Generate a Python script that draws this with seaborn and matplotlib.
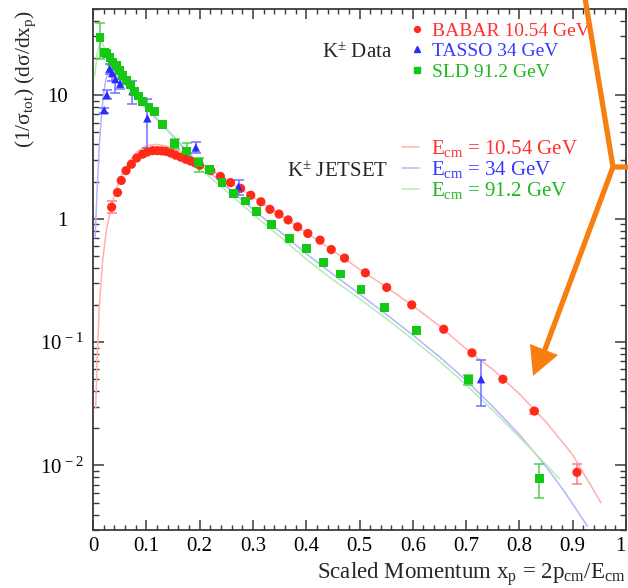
import numpy as np
import pandas as pd
import matplotlib
matplotlib.use("Agg")
import matplotlib.pyplot as plt
import seaborn as sns
from matplotlib.ticker import MultipleLocator, LogLocator, FixedLocator, NullFormatter
from matplotlib.lines import Line2D
from matplotlib.patches import Polygon

# ---------------- data ----------------
babar_x = [0.035, 0.046, 0.053, 0.062, 0.072, 0.082, 0.093, 0.102, 0.112, 0.121, 0.129, 0.137,
           0.146, 0.155, 0.165, 0.174, 0.183, 0.192, 0.200, 0.221, 0.239, 0.258, 0.277, 0.296,
           0.315, 0.332, 0.349, 0.366, 0.384, 0.403, 0.426, 0.447, 0.472, 0.511, 0.551, 0.598,
           0.658, 0.711, 0.769, 0.828, 0.908]
babar_y = [1.24, 1.63, 2.04, 2.45, 2.76, 3.10, 3.33, 3.47, 3.56, 3.56, 3.54, 3.51,
           3.40, 3.27, 3.15, 3.03, 2.93, 2.82, 2.71, 2.45, 2.20, 1.96, 1.76, 1.55,
           1.37, 1.19, 1.09, 0.977, 0.859, 0.759, 0.670, 0.562, 0.479, 0.364, 0.277, 0.200,
           0.127, 0.0818, 0.0500, 0.0276, 0.0088]
babar_err_x = [0.035, 0.828, 0.908]
babar_err_lo = [1.12, 0.0262, 0.0071]
babar_err_hi = [1.39, 0.0282, 0.0103]

tasso_x = [0.021, 0.026, 0.031, 0.036, 0.042, 0.051, 0.074, 0.102, 0.193, 0.273, 0.728]
tasso_y = [7.56, 10.05, 16.4, 15.1, 13.5, 12.4, 10.8, 6.5, 3.77, 1.82, 0.050]
tasso_err_lo = [7.2, 9.4, 14.8, 13.0, 10.5, 11.2, 8.5, 3.77, 3.40, 1.55, 0.0305]
tasso_err_hi = [7.9, 11.1, 18.0, 17.5, 16.0, 13.6, 13.0, 9.4, 4.20, 2.06, 0.0715]

sld_x = [0.013, 0.022, 0.026, 0.032, 0.037, 0.044, 0.050, 0.056, 0.063, 0.070, 0.078, 0.085,
         0.093, 0.105, 0.115, 0.131, 0.153, 0.176, 0.198, 0.219, 0.242, 0.264, 0.286, 0.307,
         0.335, 0.368, 0.400, 0.433, 0.465, 0.503, 0.547, 0.607, 0.704, 0.837]
sld_y = [29.3, 22.2, 21.9, 20.2, 18.6, 17.3, 15.9, 14.5, 13.2, 12.1, 10.8, 9.88,
         8.90, 7.95, 7.37, 5.82, 4.06, 3.54, 2.85, 2.51, 1.96, 1.60, 1.39, 1.14,
         0.90, 0.695, 0.577, 0.441, 0.356, 0.268, 0.191, 0.124, 0.0496, 0.00787]
sld_err_x = [0.013, 0.153, 0.176, 0.198, 0.704, 0.837]
sld_err_lo = [19.8, 3.70, 3.23, 2.37, 0.045, 0.00546]
sld_err_hi = [38.8, 4.46, 4.08, 3.10, 0.054, 0.0102]

jet_red_x = [0.005, 0.008, 0.012, 0.018, 0.025, 0.034, 0.045, 0.056, 0.070, 0.085, 0.100, 0.120,
             0.140, 0.165, 0.200, 0.250, 0.300, 0.350, 0.400, 0.450, 0.500, 0.550, 0.600, 0.650,
             0.700, 0.750, 0.800, 0.850, 0.900, 0.953]
jet_red_y = [0.029, 0.08, 0.20, 0.45, 0.80, 1.25, 1.80, 2.37, 3.00, 3.55, 3.90, 4.00,
             3.85, 3.50, 2.85, 2.07, 1.50, 1.08, 0.77, 0.55, 0.39, 0.28, 0.197, 0.135,
             0.088, 0.060, 0.038, 0.0225, 0.0122, 0.0050]

jet_blue_x = [0.004, 0.008, 0.012, 0.016, 0.020, 0.025, 0.030, 0.035, 0.050, 0.075, 0.100, 0.150,
              0.200, 0.250, 0.300, 0.350, 0.400, 0.450, 0.500, 0.550, 0.600, 0.650, 0.700, 0.750,
              0.800, 0.850, 0.885, 0.928]
jet_blue_y = [0.70, 1.80, 4.0, 7.0, 10.5, 14.0, 15.5, 15.5, 13.5, 10.5, 7.8, 4.7,
              2.75, 1.82, 1.19, 0.79, 0.52, 0.355, 0.245, 0.168, 0.114, 0.076, 0.049, 0.030,
              0.0178, 0.0098, 0.0061, 0.0032]

jet_green_x = [0.003, 0.008, 0.015, 0.020, 0.030, 0.050, 0.075, 0.100, 0.150, 0.200, 0.250, 0.300,
               0.350, 0.400, 0.450, 0.500, 0.550, 0.600, 0.650, 0.700, 0.750, 0.800, 0.850, 0.875]
jet_green_y = [14.3, 22.0, 28.0, 25.0, 20.0, 15.0, 11.0, 8.3, 4.6, 2.55, 1.68, 1.09,
               0.72, 0.47, 0.32, 0.225, 0.155, 0.105, 0.070, 0.045, 0.028, 0.017, 0.0102, 0.0078]

x_ticks = [0, 0.1, 0.2, 0.3, 0.4, 0.5, 0.6, 0.7, 0.8, 0.9, 1.0]
x_tick_labels = ["0", "0.1", "0.2", "0.3", "0.4", "0.5", "0.6", "0.7", "0.8", "0.9", "1"]
y_ticks = [10, 1, 0.1, 0.01]
y_tick_labels = ["10", "1", r"$\mathregular{10^{\,-1}}$", r"$\mathregular{10^{\,-2}}$"]

data_labels = ["BABAR 10.54 GeV", "TASSO 34 GeV", "SLD 91.2 GeV"]
mc_labels = [r"E$_{\mathregular{cm}}$ = 10.54 GeV", r"E$_{\mathregular{cm}}$ = 34 GeV",
             r"E$_{\mathregular{cm}}$ = 91.2 GeV"]

# ---------------- style ----------------
sns.set_style("ticks")
plt.rcParams["font.family"] = ["Liberation Serif", "DejaVu Serif"]
plt.rcParams["mathtext.fontset"] = "custom"
plt.rcParams["mathtext.rm"] = "Liberation Serif"
plt.rcParams["mathtext.it"] = "Liberation Serif:italic"

RED, BLUE, GREEN = "#ff2a1a", "#2a2aff", "#14c814"
RED_T, BLUE_T, GREEN_T = "#ff3030", "#3838ff", "#20b820"
RED_L, BLUE_L, GREEN_L = "#ffb0b0", "#b4b4ff", "#b4ecb4"
AXC = "#3a3a3a"

W, H = 628, 588
fig = plt.figure(figsize=(W / 100, H / 100), dpi=100)
ax = fig.add_axes([93 / W, 1 - 530 / H, (626 - 93) / W, (530 - 9) / H])
ax.set_yscale("log")

def fx(px):
    return px / W

def fy(py):
    return 1 - py / H

# JETSET curves
for xs, ys, c in [(jet_red_x, jet_red_y, RED_L), (jet_blue_x, jet_blue_y, BLUE_L),
                  (jet_green_x, jet_green_y, GREEN_L)]:
    sns.lineplot(x=xs, y=ys, ax=ax, color=c, lw=1.1, estimator=None, sort=False, zorder=2)

# error bars
by = np.array([babar_y[babar_x.index(v)] for v in babar_err_x])
ax.errorbar(babar_err_x, by, yerr=[by - np.array(babar_err_lo), np.array(babar_err_hi) - by],
            fmt="none", ecolor="#ff8080", elinewidth=1.1, capsize=3.6, capthick=1.1, zorder=3)
ty = np.array(tasso_y)
ax.errorbar(tasso_x, tasso_y, yerr=[ty - np.array(tasso_err_lo), np.array(tasso_err_hi) - ty],
            fmt="none", ecolor="#7070ff", elinewidth=1.1, capsize=3.6, capthick=1.1, zorder=3)
sy = np.array([sld_y[sld_x.index(v)] for v in sld_err_x])
ax.errorbar(sld_err_x, sy, yerr=[sy - np.array(sld_err_lo), np.array(sld_err_hi) - sy],
            fmt="none", ecolor="#50d050", elinewidth=1.1, capsize=3.6, capthick=1.1, zorder=3)

# data points
sns.scatterplot(x=babar_x, y=babar_y, ax=ax, marker="o", color=RED, s=44, edgecolor="none", zorder=4)
sns.scatterplot(x=tasso_x, y=tasso_y, ax=ax, marker="^", color=BLUE, s=36, edgecolor="none", zorder=4)
sns.scatterplot(x=sld_x, y=sld_y, ax=ax, marker="s", color=GREEN, s=40, edgecolor="none", zorder=4)

ax.set_xlim(0, 1)
ax.set_ylim(0.003, 50)

# ticks
ax.xaxis.set_major_locator(FixedLocator(x_ticks))
ax.set_xticklabels(x_tick_labels)
ax.xaxis.set_minor_locator(MultipleLocator(0.02))
ax.yaxis.set_major_locator(FixedLocator(y_ticks))
ax.yaxis.set_minor_locator(LogLocator(base=10, subs=np.arange(2, 10)))
ax.yaxis.set_major_formatter(NullFormatter())
ax.yaxis.set_minor_formatter(NullFormatter())
ax.tick_params(axis="both", which="both", direction="in", top=True, right=True, colors=AXC)
ax.tick_params(axis="x", which="major", length=7, width=1.1, labelsize=15, pad=5, labelcolor="black")
ax.tick_params(axis="x", which="minor", length=3.6, width=1.0)
ax.tick_params(axis="y", which="major", length=8, width=1.1)
ax.tick_params(axis="y", which="minor", length=4.5, width=1.0)
for sp in ax.spines.values():
    sp.set_color(AXC)
    sp.set_linewidth(1.3)
xtl = ax.get_xticklabels()
xtl[-1].set_horizontalalignment("right")

ytr = ax.get_yaxis_transform()
for v, lab in zip(y_ticks, y_tick_labels):
    xoff = -25 / 533 if "10^" not in lab else -9 / 533
    ax.text(xoff, v, lab, transform=ytr, ha="right", va="center_baseline", fontsize=15, color="black")

# axis labels
ax.set_xlabel(r"Scaled Momentum x$_{\mathregular{p}}$ = 2p$_{\mathregular{cm}}$/E$_{\mathregular{cm}}$",
              fontsize=16.5, loc="right")
ax.xaxis.set_label_coords(1.0, -0.058)
ax.set_ylabel(r"(1/σ$_{\mathregular{tot}}$) (dσ/dx$_{\mathregular{p}}$)", fontsize=15.5, loc="top")
ax.yaxis.set_label_coords(-0.103, 0.998)

# legends
data_handles = [Line2D([], [], ls="none", marker="o", color=RED, markersize=4.2),
                Line2D([], [], ls="none", marker="^", color=BLUE, markersize=4.0),
                Line2D([], [], ls="none", marker="s", color=GREEN, markersize=3.8)]
leg1 = ax.legend(data_handles, data_labels, loc="upper left",
                 bbox_to_anchor=(fx(407), fy(22)), bbox_transform=fig.transFigure,
                 frameon=False, fontsize=14, handlelength=1.0, handletextpad=0.3,
                 labelspacing=0.15, borderpad=0, borderaxespad=0,
                 labelcolor=[RED_T, BLUE_T, GREEN_T])
ax.add_artist(leg1)
mc_handles = [Line2D([], [], color=RED_L, lw=1.1), Line2D([], [], color=BLUE_L, lw=1.1),
              Line2D([], [], color=GREEN_L, lw=1.1)]
leg2 = ax.legend(mc_handles, mc_labels, loc="upper left",
                 bbox_to_anchor=(fx(402), fy(138)), bbox_transform=fig.transFigure,
                 frameon=False, fontsize=15, handlelength=0.8, handletextpad=0.6,
                 labelspacing=0.0, borderpad=0, borderaxespad=0,
                 labelcolor=[RED_T, BLUE_T, GREEN_T])

fig.text(fx(392), fy(53), r"K$^{\pm}$ Data", ha="right", va="center", fontsize=15)
fig.text(fx(388), fy(172), r"K$^{\pm}$ JETSET", ha="right", va="center", fontsize=15)

# orange annotation arrow
OR = "#f77f10"
fig.add_artist(Line2D([fx(585), fx(613), fx(630)], [fy(-2), fy(167), fy(167)],
                      transform=fig.transFigure, color=OR, lw=3.8, solid_joinstyle="miter"))
fig.add_artist(Line2D([fx(613), fx(544)], [fy(167), fy(352)],
                      transform=fig.transFigure, color=OR, lw=3.8))
fig.add_artist(Polygon([[fx(533), fy(376)], [fx(530), fy(344)], [fx(558), fy(355)]],
                       closed=True, transform=fig.transFigure, color=OR, lw=0))

fig.savefig("out.png", dpi=100)
